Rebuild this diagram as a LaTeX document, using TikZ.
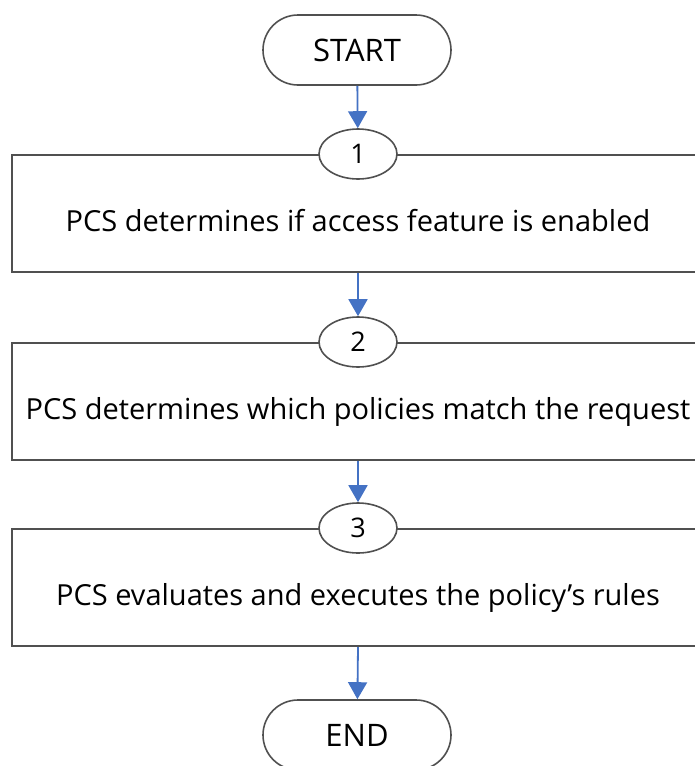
\documentclass[tikz,border=0pt]{standalone}
\usepackage{fontspec}
\setmainfont{Open Sans}
\usetikzlibrary{arrows.meta,shapes.geometric}
\definecolor{linegray}{RGB}{80,80,80}
\definecolor{flowblue}{RGB}{68,114,196}
\begin{document}
\begin{tikzpicture}
        [x = 1pt, y = -1pt,
            font = \fontsize{29}{34}\selectfont,
            terminal/.style = {draw=linegray, line width=1.6pt, rounded corners=35pt,
                minimum width=188pt, minimum height=70pt, font=\fontsize{31}{36}\selectfont},
            stepbox/.style = {draw=linegray, line width=2pt, minimum width=692pt,
                minimum height=117pt, text height=37pt, text depth=1pt},
            stepnum/.style = {ellipse, draw=linegray, fill=white, line width=1.6pt,
                minimum width=78pt, minimum height=50pt, inner sep=0pt,
                font=\fontsize{27}{32}\selectfont},
            flow/.style = {-{Triangle[width=19pt,length=17pt]}, draw=flowblue,
                fill=flowblue, line width=1.8pt}]

        \useasboundingbox (0,0) rectangle (694,766);

        \node[terminal] (begin) at (357,50) {START};

        \node[stepbox] (box1) at (358,213.5) {PCS determines if access feature is enabled};
        \node[stepnum] (num1) at (box1.north) {1};

        \node[stepbox] (box2) at (358,401.5) {PCS determines which policies match the request};
        \node[stepnum] (num2) at (box2.north) {2};

        \node[stepbox] (box3) at (358,587.5) {PCS evaluates and executes the policy’s rules};
        \node[stepnum] (num3) at (box3.north) {3};

        \node[terminal] (finish) at (357,735) {END};

        \draw[flow] (begin) -- (num1);
        \draw[flow] (box1.south) -- (num2);
        \draw[flow] (box2.south) -- (num3);
        \draw[flow] (box3.south) -- (finish);
    \end{tikzpicture}
\end{document}
